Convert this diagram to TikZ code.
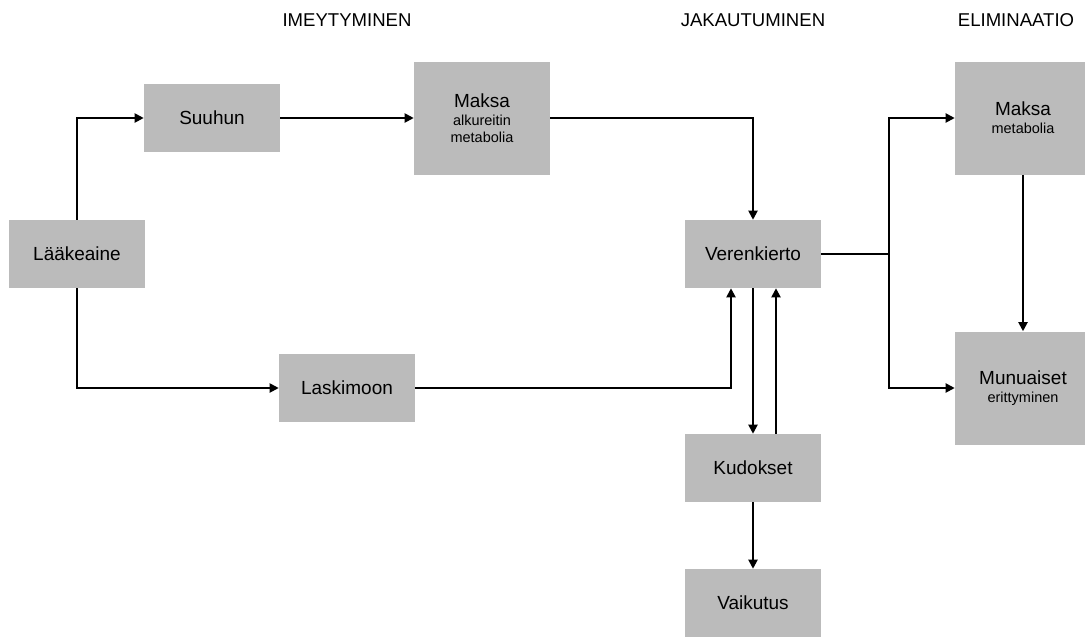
\documentclass[tikz,border=0pt]{standalone}
\usepackage{fontspec}
\setmainfont{Liberation Sans}
\usetikzlibrary{arrows.meta}
\newcommand{\pienempi}{\fontsize{10.3}{12}\selectfont}
\definecolor{boxgray}{HTML}{BBBBBB}

\begin{document}
\begin{tikzpicture}[
    font=\fontsize{13.5}{15}\selectfont,
    laatikko/.style={fill=boxgray, minimum width=3.4cm, minimum height=1.7cm, align=center, inner sep=2pt},
    iso/.style={laatikko, minimum height=2.825cm},
    otsikko/.style={font=\fontsize{13.2}{15}\selectfont},
    nuoli/.style={-{Triangle[length=6.5pt,width=6.5pt]}, line width=1.4pt},
    viiva/.style={line width=1.4pt}
  ]
  \useasboundingbox (0,0) rectangle (27.125,-15.925);

  % otsikot
  \node[otsikko] (imey) at (8.675,-0.5) {IMEYTYMINEN};
  \node[otsikko] (jaka) at (18.825,-0.5) {JAKAUTUMINEN};
  \node[otsikko] (elim) at (25.4,-0.5) {ELIMINAATIO};

  % laatikot
  \node[laatikko] (laake) at (1.925,-6.35) {Lääkeaine};
  \node[laatikko] (suu) at (5.3,-2.95) {Suuhun};
  \node[iso] (maksa) at (12.05,-2.95) {Maksa\\[-2pt]\pienempi alkureitin\\[-3pt]\pienempi metabolia};
  \node[laatikko] (laskimo) at (8.675,-9.7) {Laskimoon};
  \node[laatikko] (veri) at (18.825,-6.35) {Verenkierto};
  \node[laatikko] (kudos) at (18.825,-11.7) {Kudokset};
  \node[laatikko] (vaik) at (18.825,-15.075) {Vaikutus};
  \node[iso] (maksa2) at (25.575,-2.95) {Maksa\\[-2pt]\pienempi metabolia};
  \node[iso] (munu) at (25.575,-9.7) {Munuaiset\\[-2pt]\pienempi erittyminen};

  \coordinate (haara) at (22.225,-6.35);

  % nuolet
  \draw[nuoli] (laake.north) |- (suu.west);
  \draw[nuoli] (laake.south) |- (laskimo.west);
  \draw[nuoli] (suu) -- (maksa);
  \draw[nuoli] (maksa.east) -| (veri.north);
  \draw[nuoli] (laskimo.east) -| ([xshift=-0.55cm]veri.south);
  \draw[nuoli] (veri.south) -- (kudos.north);
  \draw[nuoli] ([xshift=0.575cm]kudos.north) -- ([xshift=0.575cm]veri.south);
  \draw[nuoli] (kudos) -- (vaik);
  \draw[viiva] (veri.east) -- (haara);
  \draw[nuoli] (haara) |- (maksa2.west);
  \draw[nuoli] (haara) |- (munu.west);
  \draw[nuoli] (maksa2) -- (munu);
\end{tikzpicture}
\end{document}
